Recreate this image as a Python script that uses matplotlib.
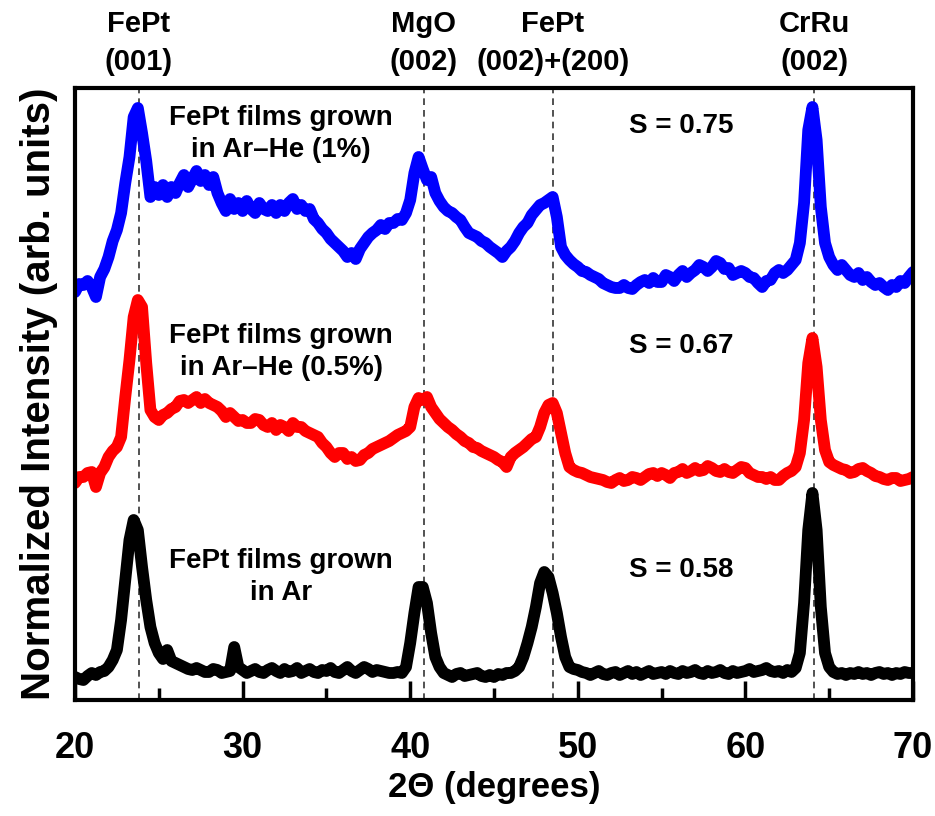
import matplotlib
matplotlib.use('Agg')
import matplotlib.pyplot as plt
import numpy as np

plt.rcParams['font.family'] = ['Liberation Sans', 'DejaVu Sans']
plt.rcParams['font.weight'] = 'bold'

# scan grid: 20 to 70 degrees, 0.25 degree step (one row per degree below)
two_theta_start = 20.0
two_theta_step = 0.25

# FePt films grown in Ar-He (1%), offset curve (top)
ar_he_1 = [
	417, 425, 424, 428,
	422, 412, 432, 440,
	452, 468, 479, 496,
	526, 552, 592, 601,
	576, 548, 512, 522,
	514, 524, 512, 522,
	516, 526, 534, 522,
	530, 538, 528, 534,
	524, 532, 516, 506,
	498, 510, 500, 506,
	498, 508, 500, 496,
	506, 500, 498, 504,
	496, 504, 498, 506,
	510, 500, 504, 498,
	500, 490, 486, 480,
	476, 470, 466, 462,
	458, 452, 456, 450,
	460, 466, 472, 476,
	479, 484, 480, 486,
	486, 490, 489, 496,
	509, 536, 552, 540,
	529, 532, 516, 508,
	502, 498, 496, 492,
	489, 482, 476, 474,
	472, 468, 466, 462,
	459, 456, 452, 458,
	462, 468, 476, 482,
	486, 494, 499, 504,
	506, 509, 512, 492,
	462, 454, 449, 445,
	442, 438, 437, 434,
	432, 430, 426, 424,
	422, 421, 421, 424,
	421, 420, 424, 427,
	429, 426, 431, 427,
	427, 434, 432, 428,
	434, 438, 432, 436,
	439, 444, 442, 438,
	442, 448, 446, 440,
	441, 434, 436, 438,
	436, 432, 431, 426,
	422, 428, 429, 436,
	439, 436, 439, 444,
	449, 466, 506, 579,
	602, 569, 502, 466,
	452, 444, 439, 444,
	439, 434, 432, 436,
	429, 432, 427, 424,
	426, 422, 419, 424,
	422, 428, 426, 432,
	437,
]

# FePt films grown in Ar-He (0.5%), offset curve (middle)
ar_he_05 = [
	226, 232, 232, 236,
	237, 222, 236, 242,
	252, 258, 262, 272,
	312, 349, 392, 409,
	402, 346, 299, 292,
	289, 294, 296, 300,
	302, 308, 309, 306,
	309, 312, 306, 310,
	306, 304, 302, 298,
	292, 296, 292, 288,
	289, 286, 286, 290,
	289, 284, 282, 286,
	279, 284, 282, 278,
	286, 282, 282, 278,
	276, 274, 272, 266,
	262, 256, 252, 256,
	256, 250, 252, 248,
	249, 254, 256, 260,
	262, 264, 266, 268,
	271, 274, 276, 278,
	282, 302, 311, 309,
	312, 302, 296, 290,
	286, 282, 279, 275,
	272, 268, 266, 262,
	261, 258, 256, 254,
	252, 249, 247, 242,
	252, 256, 259, 262,
	266, 270, 272, 282,
	296, 304, 306, 296,
	276, 256, 242, 239,
	237, 236, 234, 232,
	231, 230, 229, 227,
	226, 229, 231, 228,
	229, 232, 231, 229,
	232, 235, 236, 233,
	236, 234, 231, 236,
	237, 240, 236, 238,
	241, 238, 239, 243,
	241, 238, 237, 240,
	237, 236, 239, 242,
	241, 236, 234, 232,
	232, 230, 232, 229,
	229, 233, 236, 238,
	242, 256, 289, 346,
	371, 342, 289, 259,
	247, 244, 242, 240,
	239, 236, 237, 240,
	241, 238, 236, 233,
	232, 230, 229, 231,
	231, 228, 229, 230,
	232,
]

# FePt films grown in Ar (bottom)
ar_only = [
	32, 30, 29, 33,
	36, 34, 37, 38,
	42, 49, 59, 89,
	129, 169, 189, 179,
	142, 109, 82, 66,
	56, 50, 59, 48,
	46, 44, 42, 40,
	39, 41, 39, 37,
	37, 40, 39, 36,
	37, 38, 62, 42,
	39, 36, 38, 40,
	37, 36, 39, 41,
	38, 36, 40, 37,
	38, 41, 36, 38,
	40, 37, 36, 39,
	38, 41, 37, 36,
	39, 42, 38, 36,
	39, 42, 40, 37,
	39, 38, 37, 36,
	36, 37, 36, 42,
	66, 96, 122, 122,
	106, 76, 52, 42,
	36, 34, 32, 35,
	36, 33, 34, 35,
	36, 33, 32, 34,
	32, 35, 34, 36,
	36, 38, 42, 52,
	66, 82, 102, 126,
	137, 132, 116, 96,
	72, 52, 42, 40,
	39, 37, 36, 34,
	36, 38, 35, 34,
	36, 37, 34, 36,
	38, 35, 37, 34,
	36, 38, 35, 36,
	37, 35, 38, 36,
	35, 38, 36, 37,
	39, 36, 35, 38,
	36, 37, 39, 36,
	35, 38, 36, 37,
	38, 40, 37, 38,
	39, 41, 38, 37,
	38, 36, 39, 37,
	41, 56, 106, 179,
	216, 179, 102, 56,
	42, 37, 35, 36,
	34, 36, 35, 37,
	35, 36, 34, 36,
	37, 35, 36, 34,
	36, 35, 37, 36,
	36,
]

series_colors = ['blue', 'red', 'black']
sample_labels = ['FePt films grown\nin Ar\u2013He (1%)', 'FePt films grown\nin Ar\u2013He (0.5%)', 'FePt films grown\nin Ar']
order_params = ['S = 0.75', 'S = 0.67', 'S = 0.58']
label_heights = [575, 357, 132]
s_heights = [583, 363, 139]

peak_positions = [23.8, 40.8, 48.5, 64.1]
peak_labels = ['FePt\n(001)', 'MgO\n(002)', 'FePt\n(002)+(200)', 'CrRu\n(002)']

x_ticks = [20, 30, 40, 50, 60, 70]

fig = plt.figure(figsize=(9.35, 8.16), dpi=100)
ax = fig.add_axes([75 / 935, 116 / 816, 838 / 935, 612 / 816])

for pos in peak_positions:
	ax.axvline(pos, color='#333333', linestyle=(0, (4, 3)), linewidth=1.2, zorder=1)

for vals, color in zip([ar_he_1, ar_he_05, ar_only], series_colors):
	two_theta = two_theta_start + two_theta_step * np.arange(len(vals))
	ax.plot(two_theta, vals, color=color, linewidth=8.5, solid_joinstyle='round', solid_capstyle='round', zorder=2)

for text, s_text, y_t, y_s in zip(sample_labels, order_params, label_heights, s_heights):
	ax.text(32.3, y_t, text, ha='center', va='center', fontsize=20, fontweight='bold', linespacing=1.3)
	ax.text(56.2, y_s, s_text, ha='center', va='center', fontsize=20, fontweight='bold')

for pos, text in zip(peak_positions, peak_labels):
	ax.text(pos, 1.02, text, transform=ax.get_xaxis_transform(), ha='center', va='bottom',
			fontsize=21, fontweight='bold', linespacing=1.45)

ax.set_xlim(20, 70)
ax.set_ylim(9, 621)
ax.set_xticks(x_ticks)
ax.set_xticks([25, 35, 45, 55, 65], minor=True)
ax.set_yticks([])
ax.tick_params(axis='x', which='major', direction='in', length=14, width=2.5, labelsize=26, pad=22)
ax.tick_params(axis='x', which='minor', direction='in', length=9, width=2.5)
for lbl in ax.get_xticklabels():
	lbl.set_fontweight('bold')
for spine in ax.spines.values():
	spine.set_linewidth(3)

ax.set_xlabel('2\u0398 (degrees)', fontsize=25, fontweight='bold', labelpad=4)
ax.set_ylabel('Normalized Intensity (arb. units)', fontsize=29, fontweight='bold', labelpad=12)

fig.savefig('out.png', dpi=100)
